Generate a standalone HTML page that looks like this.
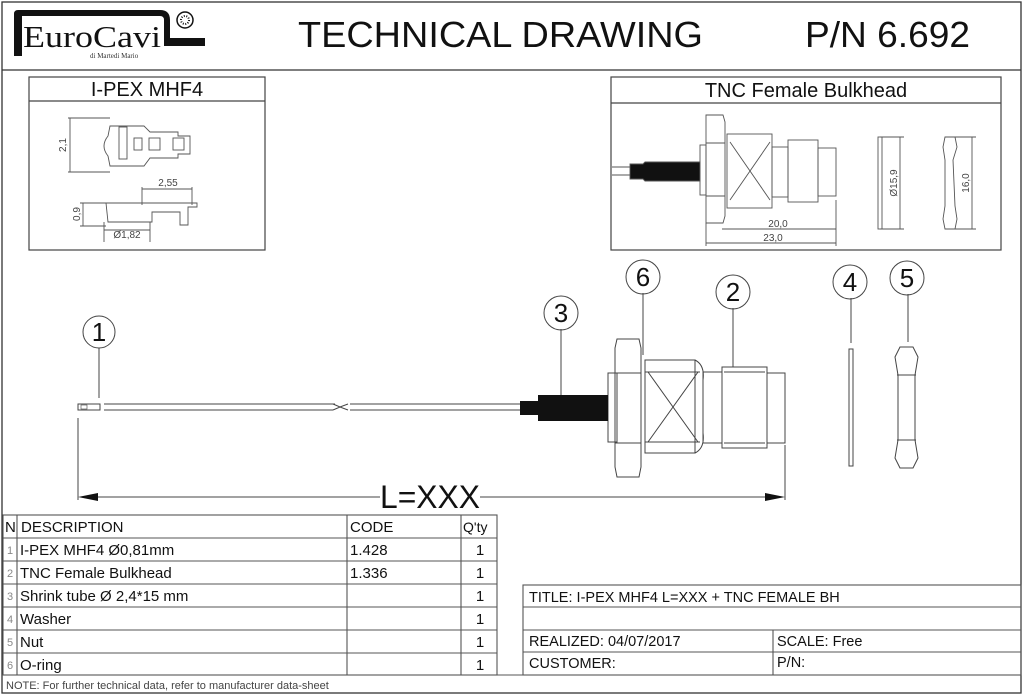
<!DOCTYPE html>
<html><head><meta charset="utf-8"><style>
html,body{margin:0;padding:0;background:#fff;}
svg{display:block;font-family:"Liberation Sans",Arial,sans-serif;}
</style></head><body>
<svg width="1024" height="695" viewBox="0 0 1024 695" xmlns="http://www.w3.org/2000/svg">
<g fill="none" stroke="#333" stroke-width="1.3">
<rect x="2" y="2" width="1019" height="691"/>
<line x1="2" y1="70" x2="1021" y2="70"/>
</g>
<!-- logo -->
<g>
<path d="M14 56 V14 Q14 10 18 10 H160 Q170 10 170 20 V38 H205 V46 H164 V20 Q164 16 160 16 H22 V56 Z" fill="#111"/>
<rect x="17" y="18" width="4" height="38" fill="#111"/>
<text x="23" y="47" font-family="Liberation Serif,serif" font-size="31" fill="#111" textLength="138" lengthAdjust="spacingAndGlyphs">EuroCavi</text>
<circle cx="185" cy="20" r="8" fill="none" stroke="#111" stroke-width="1.5"/>
<circle cx="185" cy="20" r="4" fill="none" stroke="#111" stroke-width="2" stroke-dasharray="1 1.5"/>
<text x="90" y="58" font-family="Liberation Serif,serif" font-size="7" fill="#333">di Martedi Mario</text>
</g>
<text x="298" y="47" font-size="36" fill="#111" textLength="405" lengthAdjust="spacingAndGlyphs">TECHNICAL DRAWING</text>
<text x="805" y="47" font-size="36" fill="#111" textLength="165" lengthAdjust="spacingAndGlyphs">P/N 6.692</text>

<!-- I-PEX box -->
<g fill="none" stroke="#444" stroke-width="1.2">
<rect x="29" y="77" width="236" height="173"/>
<line x1="29" y1="101" x2="265" y2="101"/>
</g>
<text x="147" y="96" text-anchor="middle" font-size="20" fill="#111">I-PEX MHF4</text>
<g fill="none" stroke="#555" stroke-width="0.9">
<path d="M110 126 H144 L150 132 H178 V136 H190 V154 H178 V158 H150 L144 166 H110 L108 156 Q100 146 108 136 Z"/>
<rect x="119" y="127" width="8" height="32"/>
<rect x="134" y="138" width="8" height="12"/><rect x="149" y="138" width="11" height="12"/><rect x="173" y="138" width="11" height="12"/>
<line x1="68" y1="118" x2="110" y2="118"/><line x1="68" y1="172" x2="110" y2="172"/>
<line x1="70" y1="118" x2="70" y2="172"/>
<line x1="142" y1="189" x2="192" y2="189"/><line x1="142" y1="187" x2="142" y2="205"/><line x1="192" y1="187" x2="192" y2="205"/>
<path d="M106 203 H197 V207 H188 V225 H180 V212 H152 V222 H108 Z"/>
<line x1="80" y1="203" x2="106" y2="203"/><line x1="80" y1="226" x2="106" y2="226"/><line x1="83" y1="203" x2="83" y2="226"/>
<line x1="104" y1="230" x2="150" y2="230"/><line x1="104" y1="222" x2="104" y2="242"/><line x1="150" y1="222" x2="150" y2="242"/>
</g>
<text x="66" y="145" font-size="10" fill="#444" transform="rotate(-90 66 145)" text-anchor="middle">2,1</text>
<text x="168" y="186" font-size="10" fill="#444" text-anchor="middle">2,55</text>
<text x="80" y="214" font-size="10" fill="#444" transform="rotate(-90 80 214)" text-anchor="middle">0,9</text>
<text x="127" y="238" font-size="10" fill="#444" text-anchor="middle">Ø1,82</text>

<!-- TNC box -->
<g fill="none" stroke="#444" stroke-width="1.2">
<rect x="611" y="77" width="390" height="173"/>
<line x1="611" y1="103" x2="1001" y2="103"/>
</g>
<text x="806" y="97" text-anchor="middle" font-size="20" fill="#111">TNC Female Bulkhead</text>
<g fill="none" stroke="#555" stroke-width="0.9">
<line x1="612" y1="167" x2="630" y2="167"/><line x1="612" y1="175" x2="630" y2="175"/>
<path d="M630 164 H643 L645 162 H700 V181 H645 L643 179 H630 Z" fill="#111"/>
<rect x="700" y="145" width="6" height="50"/>
<path d="M706 115 H723 L725 122 V216 L723 223 H706 Z"/>
<line x1="706" y1="143" x2="725" y2="143"/><line x1="706" y1="196" x2="725" y2="196"/>
<rect x="727" y="134" width="45" height="74"/><path d="M730 142 L770 200 M730 200 L770 142"/>
<rect x="772" y="147" width="16" height="50"/><rect x="788" y="140" width="30" height="62"/><rect x="818" y="148" width="18" height="48"/>
<rect x="878" y="137" width="4" height="92"/>
<path d="M945 137 H955 L957 147 L953 160 L955 206 L957 219 L955 229 H945 L943 219 L945 206 V160 L943 147 Z"/>
<line x1="900" y1="137" x2="900" y2="229"/><line x1="880" y1="137" x2="904" y2="137"/><line x1="880" y1="229" x2="904" y2="229"/>
<line x1="972" y1="137" x2="972" y2="229"/><line x1="955" y1="137" x2="976" y2="137"/><line x1="955" y1="229" x2="976" y2="229"/>
<line x1="722" y1="229" x2="836" y2="229"/><line x1="706" y1="243" x2="836" y2="243"/>
<line x1="836" y1="200" x2="836" y2="246"/><line x1="706" y1="223" x2="706" y2="246"/>
</g>
<text x="778" y="227" font-size="10" fill="#444" text-anchor="middle">20,0</text>
<text x="773" y="241" font-size="10" fill="#444" text-anchor="middle">23,0</text>
<text x="897" y="183" font-size="10" fill="#444" transform="rotate(-90 897 183)" text-anchor="middle">Ø15,9</text>
<text x="969" y="183" font-size="10" fill="#444" transform="rotate(-90 969 183)" text-anchor="middle">16,0</text>

<!-- main drawing -->
<g fill="none" stroke="#444" stroke-width="1">
<rect x="78" y="404" width="22" height="6"/>
<line x1="104" y1="404" x2="335" y2="404"/><line x1="104" y1="410" x2="333" y2="410"/>
<path d="M333 404 L340 407 L348 404 M333 410 L340 407 L348 410"/>
<line x1="350" y1="404" x2="520" y2="404"/><line x1="350" y1="410" x2="520" y2="410"/>
<line x1="78" y1="418" x2="78" y2="500"/>
<line x1="785" y1="445" x2="785" y2="500"/>
<line x1="90" y1="497" x2="380" y2="497"/><line x1="480" y1="497" x2="772" y2="497"/>
<rect x="608" y="373" width="9" height="69"/>
<path d="M617 339 H639 L641 348 V467 L639 477 H617 L615 467 V348 Z"/>
<line x1="615" y1="373" x2="641" y2="373"/><line x1="615" y1="443" x2="641" y2="443"/>
<rect x="645" y="360" width="50" height="93"/>
<path d="M695 360 Q705 365 703 380 V433 Q705 448 695 453"/>
<line x1="645" y1="372" x2="700" y2="372"/><line x1="645" y1="442" x2="700" y2="442"/>
<path d="M648 372 L698 442 M648 442 L698 372"/>
<rect x="703" y="372" width="19" height="71"/>
<rect x="722" y="367" width="45" height="81"/>
<line x1="724" y1="372" x2="765" y2="372"/><line x1="724" y1="443" x2="765" y2="443"/>
<rect x="767" y="373" width="18" height="70"/>
<rect x="849" y="349" width="4" height="117"/>
<path d="M900 347 H913 L918 357 L915 375 V440 L918 458 L913 468 H900 L895 458 L898 440 V375 L895 357 Z"/>
<line x1="897" y1="375" x2="916" y2="375"/><line x1="897" y1="440" x2="916" y2="440"/>
<line x1="99" y1="348" x2="99" y2="398"/>
<line x1="561" y1="329" x2="561" y2="395"/>
<line x1="643" y1="293" x2="643" y2="355"/>
<line x1="733" y1="308" x2="733" y2="367"/>
<line x1="851" y1="298" x2="851" y2="343"/>
<line x1="908" y1="294" x2="908" y2="342"/>
<circle cx="99" cy="332" r="16"/><circle cx="561" cy="313" r="17"/><circle cx="643" cy="277" r="17"/>
<circle cx="733" cy="292" r="17"/><circle cx="850" cy="282" r="17"/><circle cx="907" cy="278" r="17"/>
</g>
<rect x="81" y="405" width="6" height="4" fill="#fff" stroke="#444" stroke-width="0.6"/>
<rect x="520" y="401" width="20" height="14" fill="#111"/>
<rect x="538" y="395" width="70" height="26" fill="#111"/>
<path d="M78 497 L98 493 V501 Z" fill="#111"/><path d="M785 497 L765 493 V501 Z" fill="#111"/>
<g font-size="26" fill="#111" text-anchor="middle">
<text x="99" y="341">1</text><text x="561" y="322">3</text><text x="643" y="286">6</text>
<text x="733" y="301">2</text><text x="850" y="291">4</text><text x="907" y="287">5</text>
</g>
<text x="380" y="508" font-size="32" fill="#111" textLength="100" lengthAdjust="spacingAndGlyphs">L=XXX</text>

<!-- BOM table -->
<g fill="none" stroke="#555" stroke-width="1.1">
<rect x="3" y="515" width="494" height="160"/>
<line x1="3" y1="538" x2="497" y2="538"/><line x1="3" y1="561" x2="497" y2="561"/>
<line x1="3" y1="584" x2="497" y2="584"/><line x1="3" y1="607" x2="497" y2="607"/>
<line x1="3" y1="630" x2="497" y2="630"/><line x1="3" y1="653" x2="497" y2="653"/>
<line x1="17" y1="515" x2="17" y2="675"/><line x1="347" y1="515" x2="347" y2="675"/><line x1="461" y1="515" x2="461" y2="675"/>
<line x1="2" y1="675" x2="1021" y2="675"/>
</g>
<g font-size="15" fill="#111">
<text x="5" y="532">N</text><text x="21" y="532">DESCRIPTION</text><text x="350" y="532">CODE</text><text x="463" y="532" font-size="14">Q'ty</text>
<text x="20" y="555">I-PEX MHF4 Ø0,81mm</text><text x="20" y="578">TNC Female Bulkhead</text>
<text x="20" y="601">Shrink tube Ø 2,4*15 mm</text><text x="20" y="624">Washer</text>
<text x="20" y="647">Nut</text><text x="20" y="670">O-ring</text>
<text x="350" y="555">1.428</text><text x="350" y="578">1.336</text>
</g>
<g font-size="15" fill="#111" text-anchor="middle">
<text x="480" y="555">1</text><text x="480" y="578">1</text><text x="480" y="601">1</text>
<text x="480" y="624">1</text><text x="480" y="647">1</text><text x="480" y="670">1</text>
</g>
<g font-size="11" fill="#888" text-anchor="middle">
<text x="10" y="554">1</text><text x="10" y="577">2</text><text x="10" y="600">3</text>
<text x="10" y="623">4</text><text x="10" y="646">5</text><text x="10" y="669">6</text>
</g>
<text x="6" y="689" font-size="11" fill="#444">NOTE: For further technical data, refer to manufacturer data-sheet</text>

<!-- title block -->
<g fill="none" stroke="#555" stroke-width="1.1">
<rect x="523" y="585" width="498" height="90"/>
<line x1="523" y1="607" x2="1021" y2="607"/><line x1="523" y1="630" x2="1021" y2="630"/>
<line x1="523" y1="652" x2="1021" y2="652"/><line x1="773" y1="630" x2="773" y2="675"/>
</g>
<g font-size="14.5" fill="#111">
<text x="529" y="602">TITLE: I-PEX MHF4 L=XXX + TNC FEMALE BH</text>
<text x="529" y="646">REALIZED: 04/07/2017</text><text x="777" y="646">SCALE: Free</text>
<text x="529" y="668">CUSTOMER:</text><text x="777" y="667">P/N:</text>
</g>
</svg>
</body></html>
